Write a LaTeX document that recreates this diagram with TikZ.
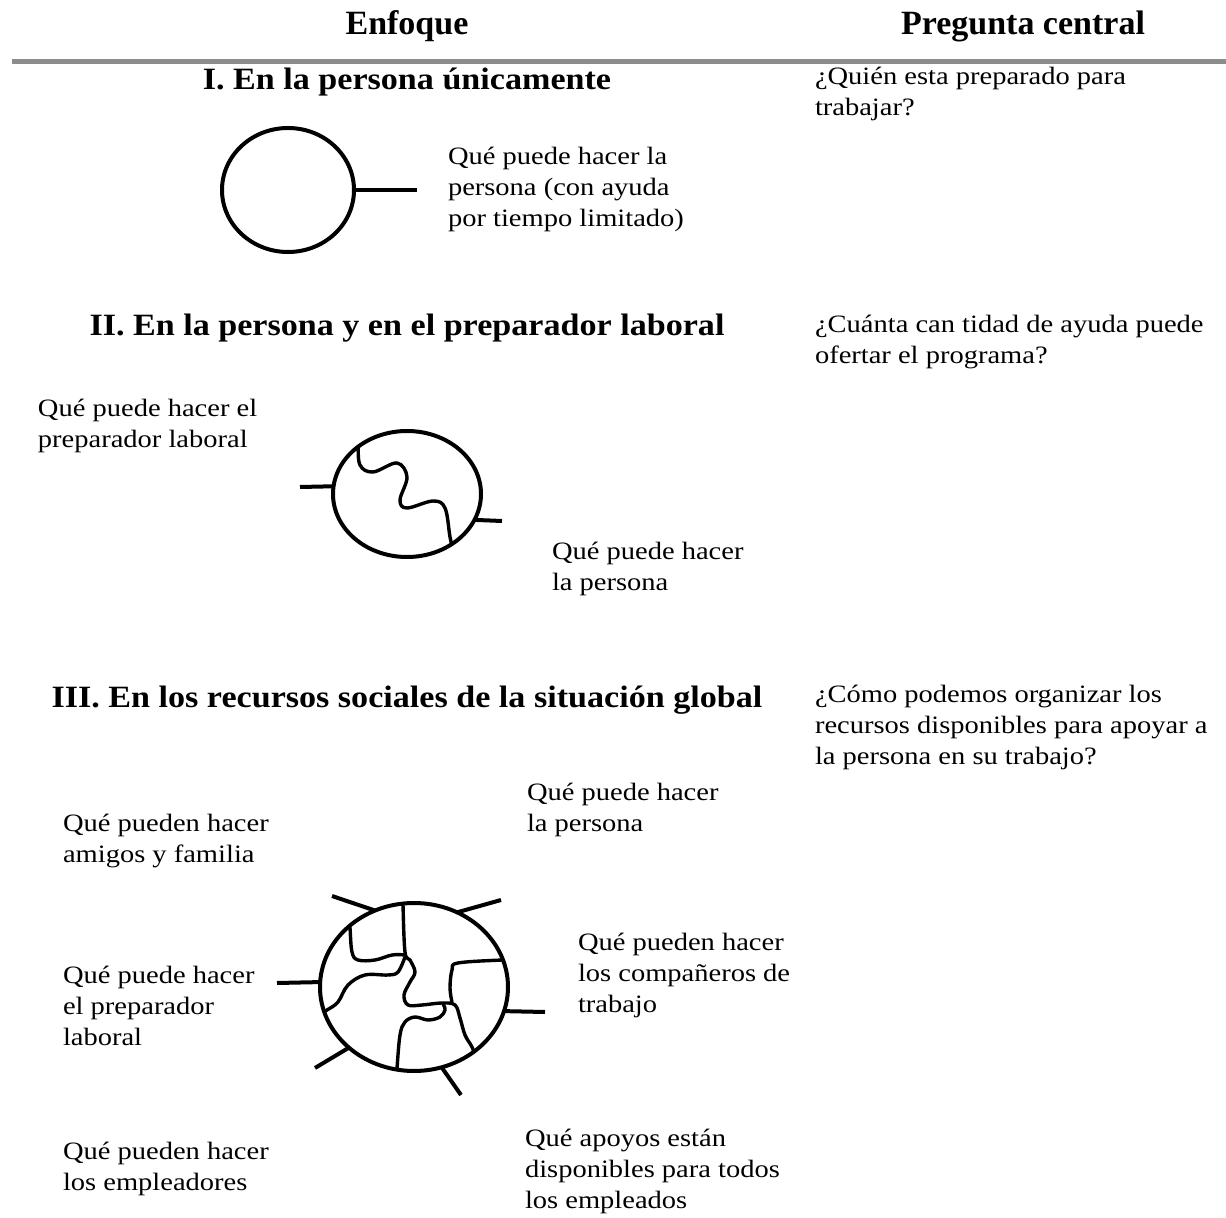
\documentclass[tikz,border=0pt]{standalone}
\usepackage{fontspec}
\setmainfont{Liberation Serif}
\newfontfamily\ancha{Liberation Serif}[FakeStretch=1.14]
\newfontfamily\anchab{Liberation Serif}[FakeStretch=1.1]
\usetikzlibrary{shapes.geometric}

\begin{document}
\begin{tikzpicture}[x=0.5pt,y=-0.5pt,
	every node/.style={inner sep=0pt, outer sep=0pt},
	encabezado/.style={font=\fontsize{17}{19}\selectfont\bfseries, anchor=base},
	titulo/.style={font=\anchab\fontsize{15.5}{18}\selectfont\bfseries, anchor=base},
	texto/.style={font=\ancha\fontsize{12.5}{15.5}\selectfont, align=left, anchor=north west},
	esfera/.style={draw, ellipse, line width=2pt},
	trazo/.style={line width=2pt},
	onda/.style={line width=1.7pt, line join=round}]
\useasboundingbox (0,0) rectangle (1226,1218);
% cabecera
\node[encabezado] (enfoque) at (407,35) {Enfoque};
\node[encabezado] (pregunta) at (1023,35) {Pregunta central};
\coordinate (reglaA) at (12,62);
\coordinate (reglaB) at (1226,62);
\draw[line width=2.5pt, black!45] (reglaA) -- (reglaB);

% I.
\node[titulo] (tituloI) at (407,90) {I. En la persona únicamente};
\node[texto] (preguntaI) at (815,67) {¿Quién esta preparado para\\trabajar?};
\node[esfera, minimum width=66pt, minimum height=62pt] (esferaI) at (288,190) {};
\coordinate (extI) at (417,190);
\draw[trazo] (esferaI.east) -- (extI);
\node[texto] (personaI) at (448,147) {Qué puede hacer la\\persona (con ayuda\\por tiempo limitado)};

% II.
\node[titulo] (tituloII) at (407,336) {II. En la persona y en el preparador laboral};
\node[texto] (preguntaII) at (815,315) {¿Cuánta can tidad de ayuda puede\\ofertar el programa?};
\node[texto] (preparadorII) at (38,399) {Qué puede hacer el\\preparador laboral};
\node[texto] (personaII) at (552,542) {Qué puede hacer\\la persona};
\node[esfera, minimum width=74pt, minimum height=63pt] (esferaII) at (407,494) {};
\coordinate (extIIa) at (300,487);
\coordinate (extIIb) at (502,521);
\draw[trazo] (extIIa) -- (esferaII.174);
\draw[trazo] (esferaII.-21) -- (extIIb);
\begin{scope}
	\clip (esferaII.center) ellipse (74 and 63);
	\draw[onda] plot[smooth, tension=0.6] coordinates {(357,430) (358,443) (360,465) (373,472) (397,463) (407,477)
		(400,500) (407,508) (433,501) (445,508) (450,537) (453,550)};
\end{scope}

% III.
\node[titulo] (tituloIII) at (407,708) {III. En los recursos sociales de la situación global};
\node[texto] (preguntaIII) at (815,685) {¿Cómo podemos organizar los\\recursos disponibles para apoyar a\\la persona en su trabajo?};
\node[texto] (personaIII) at (527,783) {Qué puede hacer\\la persona};
\node[texto] (amigos) at (63,814) {Qué pueden hacer\\amigos y familia};
\node[texto] (companeros) at (578,933) {Qué pueden hacer\\los compañeros de\\trabajo};
\node[texto] (preparadorIII) at (63,966) {Qué puede hacer\\el preparador\\laboral};
\node[texto] (empleadores) at (63,1142) {Qué pueden hacer\\los empleadores};
\node[texto] (apoyos) at (525,1129) {Qué apoyos están\\disponibles para todos\\los empleados};
\node[esfera, minimum width=94pt, minimum height=84pt] (esferaIII) at (414,987) {};
\coordinate (extIIIa) at (277,983);
\coordinate (extIIIb) at (545,1012);
\coordinate (extIIIc) at (332,896);
\coordinate (extIIId) at (501,900);
\coordinate (extIIIe) at (315,1068);
\coordinate (extIIIf) at (461,1095);
\draw[trazo] (extIIIa) -- (esferaIII.177);
\draw[trazo] (esferaIII.-15) -- (extIIIb);
\draw[trazo] (extIIIc) -- (esferaIII.117);
\draw[trazo] (esferaIII.60) -- (extIIId);
\draw[trazo] (extIIIe) -- (esferaIII.-137);
\draw[trazo] (esferaIII.-71) -- (extIIIf);
\begin{scope}
	\clip (esferaIII.center) ellipse (94 and 84);
	% linea central
	\draw[onda] plot[smooth, tension=0.6] coordinates {(403,895) (403,905) (405,952) (410,960) (415,972) (410,982)
		(404,995) (408,1005) (422,1005) (442,1003) (455,1005) (460,1018) (465,1035) (472,1047) (476,1058)};
	% arriba a la izquierda
	\draw[onda] plot[smooth, tension=0.6] coordinates {(349,918) (350,928) (352,952) (358,960) (375,960)
		(392,955) (405,955)};
	\draw[onda] plot[smooth, tension=0.6] coordinates {(405,957) (398,972) (388,975) (365,975) (348,985)
		(338,1002) (327,1010) (316,1016)};
	% derecha
	\draw[onda] plot[smooth, tension=0.6] coordinates {(512,960) (502,960) (458,963) (452,970) (450,988)
		(452,1002)};
	% abajo
	\draw[onda] plot[smooth, tension=0.6] coordinates {(396,1078) (397,1068) (400,1035) (405,1022) (415,1017)
		(428,1020) (440,1017) (445,1010) (443,1004)};
\end{scope}
\end{tikzpicture}
\end{document}
